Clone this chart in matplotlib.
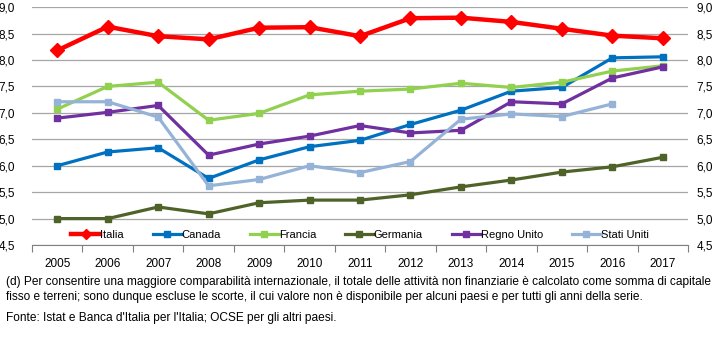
import matplotlib.pyplot as plt
import numpy as np

# DATA

years = ["2005", "2006", "2007", "2008", "2009", "2010", "2011",
         "2012", "2013", "2014", "2015", "2016", "2017"]

italia = [8.18, 8.63, 8.45, 8.39, 8.61, 8.62, 8.45, 8.79, 8.80, 8.72, 8.59, 8.46, 8.41]
canada = [6.00, 6.26, 6.34, 5.76, 6.11, 6.36, 6.48, 6.78, 7.05, 7.41, 7.48, 8.04, 8.06]
francia = [7.07, 7.50, 7.58, 6.86, 6.99, 7.34, 7.41, 7.45, 7.56, 7.48, 7.58, 7.79, 7.89]
germania = [5.00, 5.00, 5.22, 5.09, 5.30, 5.35, 5.35, 5.45, 5.60, 5.73, 5.88, 5.98, 6.16]
regno_unito = [6.90, 7.01, 7.14, 6.20, 6.41, 6.56, 6.76, 6.62, 6.67, 7.21, 7.17, 7.66, 7.87]
stati_uniti = [7.21, 7.21, 6.92, 5.62, 5.74, 6.00, 5.87, 6.08, 6.88, 6.98, 6.93, 7.17, np.nan]

series = [
    ("Italia", italia, "#FF0000", "D", 3.2, 7),
    ("Canada", canada, "#0070C0", "s", 2.3, 5),
    ("Francia", francia, "#92D050", "s", 2.3, 5),
    ("Germania", germania, "#4F6228", "s", 2.3, 5),
    ("Regno Unito", regno_unito, "#7030A0", "s", 2.3, 5),
    ("Stati Uniti", stati_uniti, "#95B3D7", "s", 2.3, 5),
]

plt.rcParams['font.family'] = ['Liberation Sans Narrow', 'Liberation Sans', 'DejaVu Sans']

fig = plt.figure(figsize=(7.22, 3.38), dpi=100)
ax = fig.add_axes([0.0443, 0.275, 0.9087, 0.704])

x = np.arange(len(years))
for name, vals, color, marker, lw, ms in series:
    ax.plot(x, vals, color=color, marker=marker, lw=lw, ms=ms, label=name, zorder=3)

ax.set_xlim(-0.5, len(years) - 0.5)
ax.set_ylim(4.5, 9.0)

yt = np.arange(4.5, 9.01, 0.5)
ax.set_yticks(yt)
ax.set_yticklabels([f"{v:.1f}".replace(".", ",") for v in yt], fontsize=8.5)
ax.tick_params(axis='y', length=0, pad=12)
ax.grid(axis='y', color='#A6A6A6', lw=0.9)
ax.set_axisbelow(True)

# TICK MARKS BETWEEN YEARS, LABELS AT CENTRES
ax.set_xticks(np.arange(-0.5, len(years), 1.0))
ax.set_xticklabels([])
ax.tick_params(axis='x', which='major', length=5, color='#808080')
ax.set_xticks(x, minor=True)
ax.set_xticklabels(years, minor=True, fontsize=8.5)
ax.tick_params(axis='x', which='minor', length=0, pad=9)

for s in ['left', 'right', 'top']:
    ax.spines[s].set_visible(False)
ax.spines['bottom'].set_color('#808080')

ax2 = ax.twinx()
ax2.set_ylim(ax.get_ylim())
ax2.set_yticks(yt)
ax2.set_yticklabels([f"{v:.1f}".replace(".", ",") for v in yt], fontsize=8.5)
ax2.tick_params(axis='y', length=0, pad=6)
for s in ['left', 'right', 'top', 'bottom']:
    ax2.spines[s].set_visible(False)

ax.legend(loc='lower center', bbox_to_anchor=(0.5, -0.02), ncol=6, frameon=False,
          fontsize=8, handlelength=2.6, columnspacing=2.6, handletextpad=0.0,
          markerscale=0.8)

fig.text(0.008, 0.144, "(d) Per consentire una maggiore comparabilità internazionale, il totale delle attività non finanziarie è calcolato come somma di capitale\n"
         "fisso e terreni; sono dunque escluse le scorte, il cui valore non è disponibile per alcuni paesi e per tutti gli anni della serie.",
         fontsize=8.6, family=['Liberation Sans', 'DejaVu Sans'], va='center', linespacing=1.3)
fig.text(0.008, 0.060, "Fonte: Istat e Banca d'Italia per l'Italia; OCSE per gli altri paesi.",
         fontsize=8.6, family=['Liberation Sans', 'DejaVu Sans'], va='center')

fig.savefig("out.png", dpi=100)
